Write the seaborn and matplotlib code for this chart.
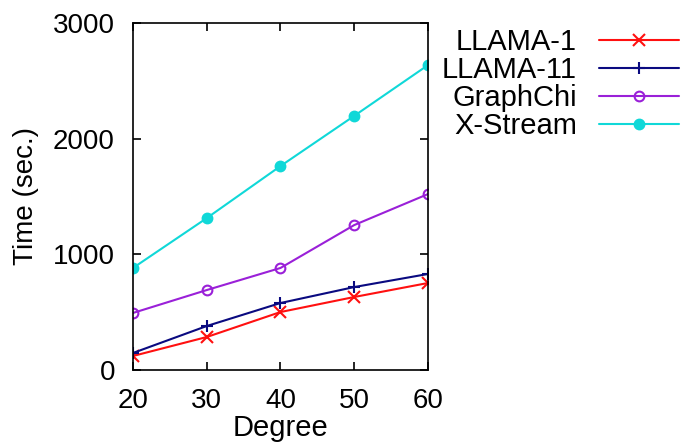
import matplotlib
matplotlib.use("Agg")
import matplotlib.pyplot as plt
import seaborn as sns
import pandas as pd

# Data
degree = [20, 30, 40, 50, 60]
llama_1 = [121, 285, 501, 631, 752]
llama_11 = [147, 380, 579, 717, 830]
graphchi = [493, 691, 882, 1253, 1521]
xstream = [882, 1313, 1763, 2197, 2636]

series = {
    "LLAMA-1": llama_1,
    "LLAMA-11": llama_11,
    "GraphChi": graphchi,
    "X-Stream": xstream,
}

# name -> (colour, marker, filled)
styles = {
    "LLAMA-1": ("#ff1010", "x", True),
    "LLAMA-11": ("#0a0a80", "+", True),
    "GraphChi": ("#9a20d8", "o", False),
    "X-Stream": ("#10d8d8", "o", True),
}

sns.set_style("ticks")
plt.rcParams["font.family"] = ["Liberation Sans", "DejaVu Sans"]
plt.rcParams["text.color"] = "black"
plt.rcParams["axes.labelcolor"] = "black"

fig = plt.figure(figsize=(6.84, 4.44), dpi=100)
ax = fig.add_axes([0.1944, 0.1667, 0.4313, 0.7815])

for name, vals in series.items():
    color, marker, filled = styles[name]
    df = pd.DataFrame({"Degree": degree, "Time": vals})
    sns.lineplot(
        data=df, x="Degree", y="Time", ax=ax, label=name,
        color=color, marker=marker, markersize=8 if marker != "o" else 7,
        markeredgewidth=1.5,
        markerfacecolor=color if filled else "none",
        markeredgecolor=color, linewidth=1.5,
    )

ax.set_xlim(20, 60)
ax.set_ylim(0, 3000)
ax.set_xticks(degree)
ax.set_yticks([0, 1000, 2000, 3000])
ax.tick_params(direction="in", top=True, right=True, length=6, width=1.2,
               labelsize=20, colors="black")
ax.tick_params(axis="y", pad=13)
ax.tick_params(axis="x", pad=13)
for s in ax.spines.values():
    s.set_visible(True)
    s.set_color("black")
    s.set_linewidth(1.2)

ax.set_xlabel("Degree", fontsize=21, labelpad=0)
ax.set_ylabel("Time (sec.)", fontsize=20, labelpad=10)

leg = ax.legend(loc="upper right", bbox_to_anchor=(679 / 684, 0.937),
                bbox_transform=fig.transFigure, frameon=False,
                markerfirst=False, fontsize=21, handlelength=2.75,
                handletextpad=0.75, labelspacing=0.0, borderpad=0,
                borderaxespad=0)
for t in leg.get_texts():
    t.set_color("black")

fig.savefig("out.png", dpi=100)
